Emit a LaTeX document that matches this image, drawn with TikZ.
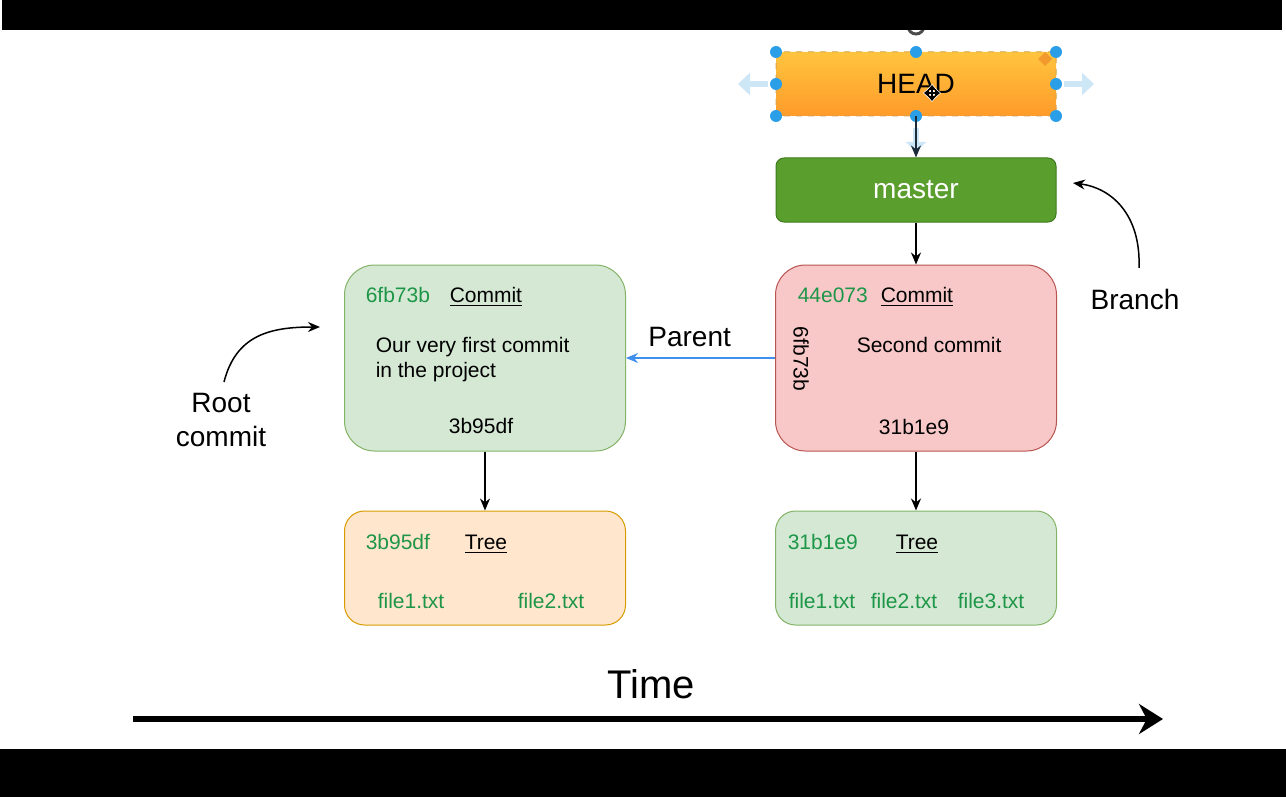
\documentclass[tikz,border=0pt]{standalone}
\usepackage{fontspec}
\setmainfont{Liberation Sans}
\usetikzlibrary{positioning,arrows.meta}
\definecolor{headtop}{HTML}{FFC43E}
\definecolor{headbot}{HTML}{FF9B2A}
\definecolor{headline}{HTML}{D9A24A}
\definecolor{mastergreen}{HTML}{5A9E2E}
\definecolor{masterline}{HTML}{3F7A1E}
\definecolor{cgreenfill}{HTML}{D5E8D4}
\definecolor{cgreenline}{HTML}{82B366}
\definecolor{credfill}{HTML}{F8C8C9}
\definecolor{credline}{HTML}{B85450}
\definecolor{treefill}{HTML}{FFE6CC}
\definecolor{treeline}{HTML}{D79B00}
\definecolor{hashgreen}{HTML}{1E9648}
\definecolor{parentblue}{HTML}{3F8FEF}
\definecolor{arrowdark}{HTML}{1C2B3A}
\definecolor{handleblue}{HTML}{2A9FE8}
\definecolor{handlearrow}{HTML}{CDE7F7}
\definecolor{diamondorange}{HTML}{F39A2E}
\tikzset{
block/.style = {draw, minimum height=93pt, minimum width=140.5pt, rounded corners=15pt, line width=0.5pt},
treeblock/.style = {draw, minimum height=57pt, minimum width=140.5pt, rounded corners=10pt, line width=0.5pt},
refblock/.style = {draw, minimum height=32pt, minimum width=140pt, rounded corners=4pt, line width=0.5pt,
                   font=\fontsize{14}{16}\selectfont},
hash/.style = {anchor=base west, inner sep=0pt, text=hashgreen, font=\fontsize{10.5}{12.6}\selectfont},
txt/.style  = {anchor=base west, inner sep=0pt, text=black, font=\fontsize{10.5}{12.6}\selectfont},
tag/.style  = {anchor=base, inner sep=0pt, font=\fontsize{14}{16}\selectfont},
input/.style = {coordinate},
handle/.style = {fill=handleblue},
}

\begin{document}
\begin{tikzpicture}[x=0.5pt, y=-0.5pt, >={Stealth[length=6pt, width=5pt]}, line width=0.75pt]
    \useasboundingbox (0,0) rectangle (1286,797);

    % rotation handle, half hidden by the bar
    \draw [gray!60!black, line width=1.5pt] (916,26) circle (8);
    \fill [black] (2,0) rectangle (1282,30);
    \fill [black] (0,749) rectangle (1286,797);

    \node [refblock, name=head, top color=headtop, bottom color=headbot, draw=headline,
           dashed, rounded corners=1pt] (head) at (916,84) {HEAD};
    \node [refblock, name=master, below of=head, node distance=53pt,
           fill=mastergreen, draw=masterline, text=white] (master) {master};

    \node [block, name=committwo, below of=master, node distance=84pt,
           fill=credfill, draw=credline] (committwo) {};
    \node [treeblock, name=treetwo, below of=committwo, node distance=105pt,
           fill=cgreenfill, draw=cgreenline] (treetwo) {};
    \node [block, name=commitone, left of=committwo, node distance=215.5pt,
           fill=cgreenfill, draw=cgreenline] (commitone) {};
    \node [treeblock, name=treeone, below of=commitone, node distance=105pt,
           fill=treefill, draw=treeline] (treeone) {};

    % selection handles round HEAD
    \draw [handlearrow, line width=3pt, -{Triangle[length=6pt, width=11pt]}] (768,84) -- (738,84);
    \draw [handlearrow, line width=3pt, -{Triangle[length=6pt, width=11pt]}] (1064,84) -- (1094,84);
    \draw [handlearrow, line width=3pt, -{Triangle[length=5pt, width=10pt]}] (916,128) -- (916,152);
    \foreach \hx/\hy in {776/52, 916/52, 1056/52, 776/84, 1056/84, 776/116, 916/116, 1056/116}
        \fill [handle] (\hx,\hy) circle (6);
    \fill [diamondorange] (1045,52) -- (1052,59) -- (1045,66) -- (1038,59) -- cycle;

    \draw [->, color=arrowdark, line width=1pt] (head) -- (master);
    \draw [->] (master) -- (committwo);
    \draw [->] (commitone) -- (treeone);
    \draw [->] (committwo) -- (treetwo);
    \draw [->, color=parentblue] (committwo) --
        node [tag, pos=0.573, anchor=base, yshift=6pt, text=black] (parentlbl) {Parent} (commitone);

    % move cursor over HEAD
    \draw [white, line width=2.4pt, {Triangle[length=3pt, width=5pt]}-{Triangle[length=3pt, width=5pt]}] (923,93) -- (941,93);
    \draw [white, line width=2.4pt, {Triangle[length=3pt, width=5pt]}-{Triangle[length=3pt, width=5pt]}] (932,84) -- (932,102);
    \draw [black, line width=1pt, {Triangle[length=2.5pt, width=4pt]}-{Triangle[length=2.5pt, width=4pt]}] (924,93) -- (940,93);
    \draw [black, line width=1pt, {Triangle[length=2.5pt, width=4pt]}-{Triangle[length=2.5pt, width=4pt]}] (932,85) -- (932,101);

    % first commit
    \node [hash, name=c1hash] (c1hash) at (365,302) {6fb73b};
    \node [txt, name=c1kind] (c1kind) at (449,302) {\underline{Commit}};
    \node [txt, name=c1msga] (c1msga) at (375,352) {Our very first commit};
    \node [txt, name=c1msgb] (c1msgb) at (375,377) {in the project};
    \node [txt, name=c1tree, anchor=base] (c1tree) at (481,433) {3b95df};

    % second commit
    \node [hash, name=c2hash] (c2hash) at (797,302) {44e073};
    \node [txt, name=c2kind] (c2kind) at (880,302) {\underline{Commit}};
    \node [txt, name=c2msg] (c2msg) at (856,352) {Second commit};
    \node [txt, name=c2tree, anchor=base] (c2tree) at (914,434) {31b1e9};
    \node [txt, name=c2parent, anchor=center, rotate=-90] (c2parent) at (801,359) {6fb73b};

    % trees
    \node [hash, name=t1hash] (t1hash) at (365,549) {3b95df};
    \node [txt, name=t1kind] (t1kind) at (464,549) {\underline{Tree}};
    \node [hash, name=t1fa] (t1fa) at (377,608) {file1.txt};
    \node [hash, name=t1fb] (t1fb) at (517,608) {file2.txt};

    \node [hash, name=t2hash] (t2hash) at (787,549) {31b1e9};
    \node [txt, name=t2kind] (t2kind) at (895,549) {\underline{Tree}};
    \node [hash, name=t2fa] (t2fa) at (788,608) {file1.txt};
    \node [hash, name=t2fb] (t2fb) at (870,608) {file2.txt};
    \node [hash, name=t2fc] (t2fc) at (957,608) {file3.txt};

    % side notes
    \node [tag, name=rootlbl] (rootlbl) at (221,412) {Root};
    \node [tag, name=rootlblb] (rootlblb) at (221,446) {commit};
    \node [input, name=rootend] (rootend) at (320,327) {};
    \draw [->] ([xshift=1.5pt, yshift=5pt]rootlbl.north) .. controls (236,335) and (270,327) .. (rootend);

    \node [tag, name=branchlbl] (branchlbl) at (1135,309) {Branch};
    \node [input, name=branchend] (branchend) at (1073,183) {};
    \draw [->] ([xshift=2pt, yshift=10pt]branchlbl.north) .. controls (1141,215) and (1112,188) .. (branchend);

    \node [tag, name=time, font=\fontsize{20}{24}\selectfont] (time) at (651,698) {Time};
    \node [input, name=tstart] (tstart) at (133,719) {};
    \node [input, name=tend] (tend) at (1163,719) {};
    \draw [line width=3pt, -{Stealth[length=12pt, width=15pt]}] (tstart) -- (tend);
\end{tikzpicture}
\end{document}
